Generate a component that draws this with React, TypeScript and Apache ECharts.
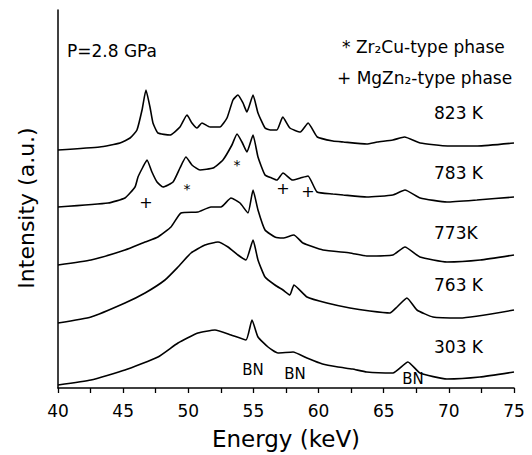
import React, { useEffect, useRef } from "react";
import * as echarts from "echarts";

// Energy (keV), intensity (a.u., stacked offsets)
const curve823K: [number, number][] = [
  [40, 238], [43.2, 241], [44.76, 245], [45.53, 250], [46.06, 258], [46.45, 278], [46.75, 298],
  [47.06, 281], [47.29, 265], [47.67, 255], [48.6, 253], [49.36, 261], [49.9, 273], [50.28, 265],
  [50.67, 260], [51.05, 265], [51.67, 261], [52.43, 261], [52.97, 270], [53.43, 288], [53.81, 293],
  [54.2, 285], [54.5, 276], [54.97, 293], [55.35, 275], [55.89, 260], [56.3, 258], [56.8, 258],
  [57.25, 271], [57.8, 260], [58.6, 256], [59.2, 265], [59.9, 251], [61.1, 247], [61.9, 246],
  [63.7, 244], [64.5, 246], [65.7, 248], [66.6, 251], [67.8, 245], [69.9, 242], [72.2, 242],
  [75, 245],
];
const curve783K: [number, number][] = [
  [40, 181], [43.84, 185], [45.14, 190], [45.91, 201], [46.14, 211], [46.52, 221], [46.83, 228],
  [47.21, 216], [47.6, 206], [48.06, 201], [48.83, 206], [49.36, 220], [49.82, 231], [50.28, 223],
  [50.9, 218], [51.9, 220], [52.66, 228], [53.35, 243], [53.74, 254], [54.12, 246], [54.5, 236],
  [54.97, 253], [55.35, 231], [55.89, 213], [56.4, 210], [56.8, 208], [57.27, 215], [58.0, 208],
  [58.6, 210], [59.19, 212], [59.88, 196], [61.1, 194], [61.9, 193], [63.7, 191], [65.7, 193],
  [66.63, 198], [67.8, 190], [69.85, 186], [72.15, 188], [75, 191],
];
const curve773K: [number, number][] = [
  [40, 123], [42.53, 128], [45.14, 138], [46.68, 146], [47.67, 151], [48.67, 161], [49.44, 175],
  [50.74, 176], [51.74, 181], [52.51, 181], [53.28, 190], [53.97, 185], [54.58, 175], [54.97, 198],
  [55.35, 178], [55.89, 158], [56.65, 151], [57.27, 150], [58.1, 153], [58.8, 145], [60.34, 138],
  [62.41, 135], [63.7, 132], [65.7, 133], [66.63, 141], [67.78, 131], [69.85, 126], [72.4, 128],
  [75, 133],
];
const curve763K: [number, number][] = [
  [40, 65], [42.53, 71], [45.14, 85], [46.68, 95], [48.21, 108], [49.21, 121], [50.21, 135],
  [51.28, 143], [52.28, 146], [53.05, 141], [53.81, 133], [54.43, 128], [54.97, 148], [55.35, 128],
  [55.89, 111], [56.65, 103], [57.27, 98], [57.8, 93], [58.11, 103], [59.11, 91], [60.64, 85],
  [62.41, 80], [63.94, 77], [65.48, 75], [66.02, 81], [66.78, 90], [67.55, 78], [68.78, 71],
  [70.85, 70], [75, 78],
];
const curve303K: [number, number][] = [
  [40, 3], [42.53, 8], [45.14, 18], [47.67, 31], [49.21, 45], [50.74, 55], [52.05, 58],
  [53.28, 53], [54.43, 48], [54.89, 68], [55.35, 51], [56.12, 41], [56.88, 35], [58.04, 36],
  [59.11, 30], [60.3, 24], [61.5, 21], [62.6, 19], [63.7, 16], [65.71, 15], [66.86, 26],
  [67.78, 15], [69.85, 9], [72.38, 11], [75, 16],
];

const curves = [curve823K, curve783K, curve773K, curve763K, curve303K];
const temperatureLabels = ["823 K", "783 K", "773K", "763 K", "303 K"];
const pressureLabel = "P=2.8 GPa";
const phaseLegend = ["* Zr₂Cu-type phase", "+ MgZn₂-type phase"];

const FONT = "'DejaVu Sans', Arial, sans-serif";

export default function App() {
  const ref = useRef<HTMLDivElement>(null);
  useEffect(() => {
    document.body.style.margin = "0";
    if (!ref.current) return;
    const chart = echarts.init(ref.current, undefined, { renderer: "svg" });
    const txt = (text: string, x: number, y: number, size = 17, extra: any = {}) => ({
      type: "text",
      x,
      y,
      style: {
        text,
        fill: "#000",
        font: `${size}px ${FONT}`,
        textAlign: "left",
        textVerticalAlign: "middle",
        ...extra,
      },
    });
    const labelY = [113, 173, 233, 285, 347];
    const option: any = {
      animation: false,
      backgroundColor: "#fff",
      grid: { left: 58, right: 18, top: 10, bottom: 67 },
      xAxis: {
        type: "value",
        min: 40,
        max: 75,
        interval: 5,
        axisLine: { show: true, lineStyle: { color: "#000", width: 1.5 } },
        axisTick: { show: true, length: 5, inside: false, lineStyle: { color: "#000", width: 1.3 } },
        minorTick: { show: true, splitNumber: 2, length: 5, lineStyle: { color: "#000", width: 1.3 } },
        axisLabel: { color: "#000", fontSize: 17, fontFamily: FONT, margin: 14 },
        splitLine: { show: false },
        name: "Energy (keV)",
        nameLocation: "middle",
        nameGap: 39,
        nameTextStyle: { color: "#000", fontSize: 23, fontFamily: FONT },
      },
      yAxis: {
        type: "value",
        min: 0,
        max: 378,
        axisLine: { show: true, lineStyle: { color: "#000", width: 1.5 } },
        axisTick: { show: false },
        axisLabel: { show: false },
        splitLine: { show: false },
      },
      series: curves.map((data, i) => ({
        type: "line",
        name: temperatureLabels[i],
        data,
        showSymbol: false,
        symbol: "none",
        smooth: 0.15,
        lineStyle: { color: "#000", width: 1.6 },
      })),
      graphic: [
        {
          type: "text",
          x: 26,
          y: 208,
          rotation: Math.PI / 2,
          style: {
            text: "Intensity (a.u.)",
            fill: "#000",
            font: `22px ${FONT}`,
            textAlign: "center",
            textVerticalAlign: "middle",
          },
        },
        txt(pressureLabel, 67, 51, 17),
        txt(phaseLegend[0], 342, 47, 17),
        txt(phaseLegend[1], 337, 78, 17),
        ...temperatureLabels.map((t, i) => txt(t, 434, labelY[i], 17)),
        txt("+", 146, 202, 16, { textAlign: "center" }),
        txt("*", 187, 189, 14, { textAlign: "center" }),
        txt("*", 237, 165, 14, { textAlign: "center" }),
        txt("+", 283, 188, 16, { textAlign: "center" }),
        txt("+", 308, 191, 16, { textAlign: "center" }),
        txt("BN", 253, 370, 15, { textAlign: "center" }),
        txt("BN", 295, 374, 15, { textAlign: "center" }),
        txt("BN", 413, 379, 15, { textAlign: "center" }),
      ],
    };
    chart.setOption(option);
    return () => chart.dispose();
  }, []);
  return <div ref={ref} style={{ width: 532, height: 455 }} />;
}
